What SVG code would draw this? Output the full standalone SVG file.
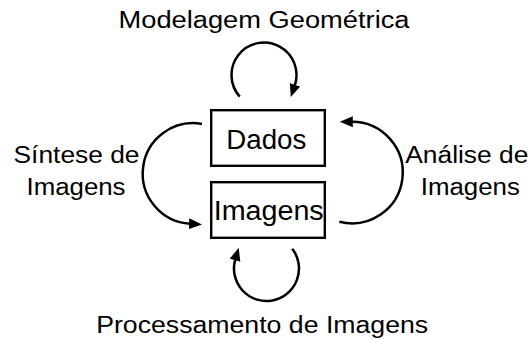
<svg xmlns="http://www.w3.org/2000/svg" width="531" height="339" viewBox="0 0 531 339">
  <style>
    .box { fill: #fff; stroke: #000; stroke-width: 2.4; }
    .arc { fill: none; stroke: #000; stroke-width: 2.5; }
    .lbl { font-family: "Liberation Sans", Arial, sans-serif; font-size: 23.5px; fill: #000; text-anchor: middle; }
    .node { font-family: "Liberation Sans", Arial, sans-serif; font-size: 27px; fill: #000; text-anchor: middle; }
  </style>
  <defs>
    <marker id="head" markerUnits="userSpaceOnUse" markerWidth="14" markerHeight="12" viewBox="0 0 14 12" refX="1" refY="6" orient="auto">
      <path d="M0,0.5 L13,6 L0,11.5 z" fill="#000"/>
    </marker>
  </defs>

  <rect width="531" height="339" fill="#fff"/>

  <!-- nodes -->
  <g id="dados">
    <rect class="box" x="211.2" y="110.2" width="113.6" height="55.6"/>
    <text class="node" x="266.3" y="149" textLength="80" lengthAdjust="spacingAndGlyphs">Dados</text>
  </g>
  <g id="imagens">
    <rect class="box" x="211.2" y="182.2" width="113.6" height="55.6"/>
    <text class="node" x="268.7" y="220" textLength="110" lengthAdjust="spacingAndGlyphs">Imagens</text>
  </g>

  <!-- connectors -->
  <g id="connectors">
    <!-- Dados to Dados -->
    <path class="arc" d="M239.7,96.6 A32.5,32.5 0 1 1 294.7,85.7" marker-end="url(#head)"/>
    <!-- Dados to Imagens -->
    <path class="arc" d="M202,124 A50.3,50.3 0 1 0 190,223.7" marker-end="url(#head)"/>
    <!-- Imagens to Dados -->
    <path class="arc" d="M339.3,221.7 A50.8,50.8 0 1 0 351.8,121.7" marker-end="url(#head)"/>
    <!-- Imagens to Imagens -->
    <path class="arc" d="M292.25,248.7 A32.5,32.5 0 1 1 235.3,259.3" marker-end="url(#head)"/>
  </g>

  <!-- connector labels -->
  <g id="labels">
    <text class="lbl" x="264" y="28" textLength="291" lengthAdjust="spacingAndGlyphs">Modelagem Geométrica</text>
    <text class="lbl" x="262.2" y="333.3" textLength="332" lengthAdjust="spacingAndGlyphs">Processamento de Imagens</text>
    <text class="lbl" x="76.5" y="163" textLength="126" lengthAdjust="spacingAndGlyphs">Síntese de</text>
    <text class="lbl" x="76" y="195" textLength="99" lengthAdjust="spacingAndGlyphs">Imagens</text>
    <text class="lbl" x="466.8" y="163" textLength="123" lengthAdjust="spacingAndGlyphs">Análise de</text>
    <text class="lbl" x="470.3" y="195" textLength="99" lengthAdjust="spacingAndGlyphs">Imagens</text>
  </g>
</svg>
